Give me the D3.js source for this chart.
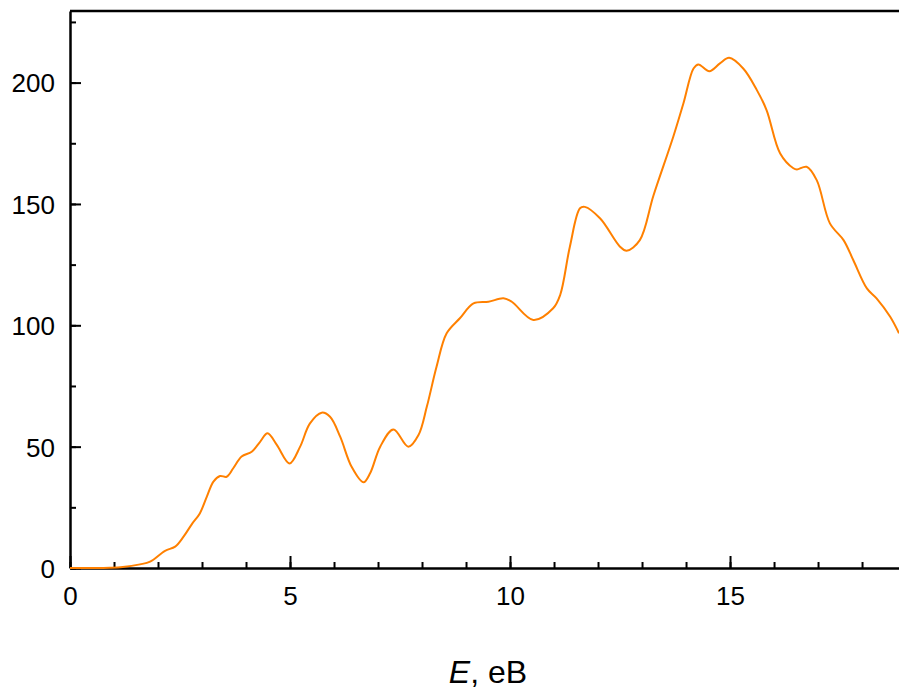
<!DOCTYPE html>
<html>
<head>
<meta charset="utf-8">
<script src="https://cdn.jsdelivr.net/npm/d3@7"></script>
<style>
    body { margin: 0; background: #fff; }
    svg { display: block; font-family: "Liberation Sans", Arial, sans-serif; }
</style>
</head>
<body>
<svg class="canvasClass" width="899" height="691"></svg>
<script>
// spectrum
let energy = [0, 0.5, 0.9, 1.2, 1.59, 1.82, 2.16, 2.39, 2.58, 2.77, 2.95, 3.11, 3.26, 3.41, 3.56, 3.71, 3.90, 4.13, 4.32, 4.49,
    4.70, 4.99, 5.23, 5.45, 5.72, 5.91, 6.14, 6.40, 6.67, 6.82, 7.05, 7.35, 7.69, 7.92, 8.11, 8.33, 8.56, 8.86, 9.17, 9.51,
    9.85, 10.04, 10.53, 10.98, 11.14, 11.36, 11.59, 11.70, 12.05, 12.5, 12.65, 12.95, 13.26, 13.71, 13.94, 14.17, 14.28, 14.53, 14.77, 14.98,
    15.30, 15.61, 15.83, 16.14, 16.44, 16.52, 16.74, 16.97, 17.27, 17.58, 17.80, 18.11, 18.33, 18.64, 18.84];
let intensity = [0, 0, 0.1, 0.4, 1.5, 2.6, 7.1, 8.8, 12.9, 18.1, 22.5, 29.4, 35.6, 37.9, 37.6, 41.1, 45.9, 47.9, 52, 55.5,
    50.7, 43.1, 50, 59.5, 64, 62.3, 54.1, 41.7, 35.3, 39, 50, 57.1, 50, 54.8, 66.5, 82.9, 96.7, 102.9, 109, 109.7,
    111.1, 109.7, 102.2, 107, 112.5, 132.4, 148.2, 148.8, 144, 132.4, 130.7, 135.1, 153.5, 177.7, 191.4, 205.8, 207.5, 204.7, 207.9, 210.2,
    205.8, 196.9, 188.7, 170.8, 164.7, 164.2, 165.3, 159.8, 142, 135.1, 126.9, 115.2, 111.1, 103.5, 96.7];

let xTicks = [0, 5, 10, 15];
let xMinorTicks = d3.range(0, 19, 1);
let yTicks = [0, 50, 100, 150, 200];
let yMinorTicks = d3.range(0, 250, 25);
let xTitle = "E";
let xUnit = ", eB";

let svg = d3.select(".canvasClass"),
    marginLeft = 70,
    marginTop = 11,
    width = 829,
    height = 557;

let x = d3.scaleLinear().domain([0, 18.84]).range([0, width]);
let y = d3.scaleLinear().domain([0, 229.5]).range([height, 0]);

let g = svg.append("g").attr("transform", "translate(" + marginLeft + "," + marginTop + ")");

g.append("clipPath").attr("id", "plotClip")
    .append("rect").attr("width", width).attr("height", height + 2).attr("y", -1);

// minor ticks first, majors on top
g.append("g")
    .attr("transform", "translate(0," + height + ")")
    .call(d3.axisBottom(x).tickValues(xMinorTicks).tickSize(-6).tickFormat(""))
    .call(a => a.select(".domain").remove());
g.append("g")
    .call(d3.axisLeft(y).tickValues(yMinorTicks).tickSize(-6).tickFormat(""))
    .call(a => a.select(".domain").remove());

let xAxis = g.append("g")
    .attr("transform", "translate(0," + height + ")")
    .call(d3.axisBottom(x).tickValues(xTicks).tickSize(-12).tickSizeOuter(0).tickPadding(14));

let yAxis = g.append("g")
    .call(d3.axisLeft(y).tickValues(yTicks).tickSize(-11).tickSizeOuter(0).tickPadding(15));

g.selectAll(".tick line").attr("stroke", "#000").attr("stroke-width", 2);
g.selectAll(".domain").attr("stroke", "#000").attr("stroke-width", 2.5);
g.selectAll(".tick text").attr("font-family", "Liberation Sans, Arial, sans-serif")
    .attr("font-size", 26).attr("fill", "#000");
xAxis.selectAll(".tick text").attr("dy", "0.9em");
yAxis.selectAll(".tick text").attr("dy", "0.36em");

// top frame
g.append("line")
    .attr("x1", 0).attr("x2", width)
    .attr("y1", 0).attr("y2", 0)
    .attr("stroke", "#000").attr("stroke-width", 2.5);

// the curve, drawn over the axes like the original
let line = d3.line()
    .x(d => x(d[0]))
    .y(d => y(d[1]))
    .curve(d3.curveCatmullRom.alpha(0.5));

g.append("path")
    .datum(d3.zip(energy, intensity))
    .attr("clip-path", "url(#plotClip)")
    .attr("fill", "none")
    .attr("stroke", "#ff8000")
    .attr("stroke-width", 2)
    .attr("d", line);

// axis title
let title = svg.append("text")
    .attr("x", 488)
    .attr("y", 683)
    .attr("text-anchor", "middle")
    .attr("font-size", 32)
    .attr("fill", "#000");
title.append("tspan").attr("font-style", "italic").text(xTitle);
title.append("tspan").text(xUnit);
</script>
</body>
</html>
